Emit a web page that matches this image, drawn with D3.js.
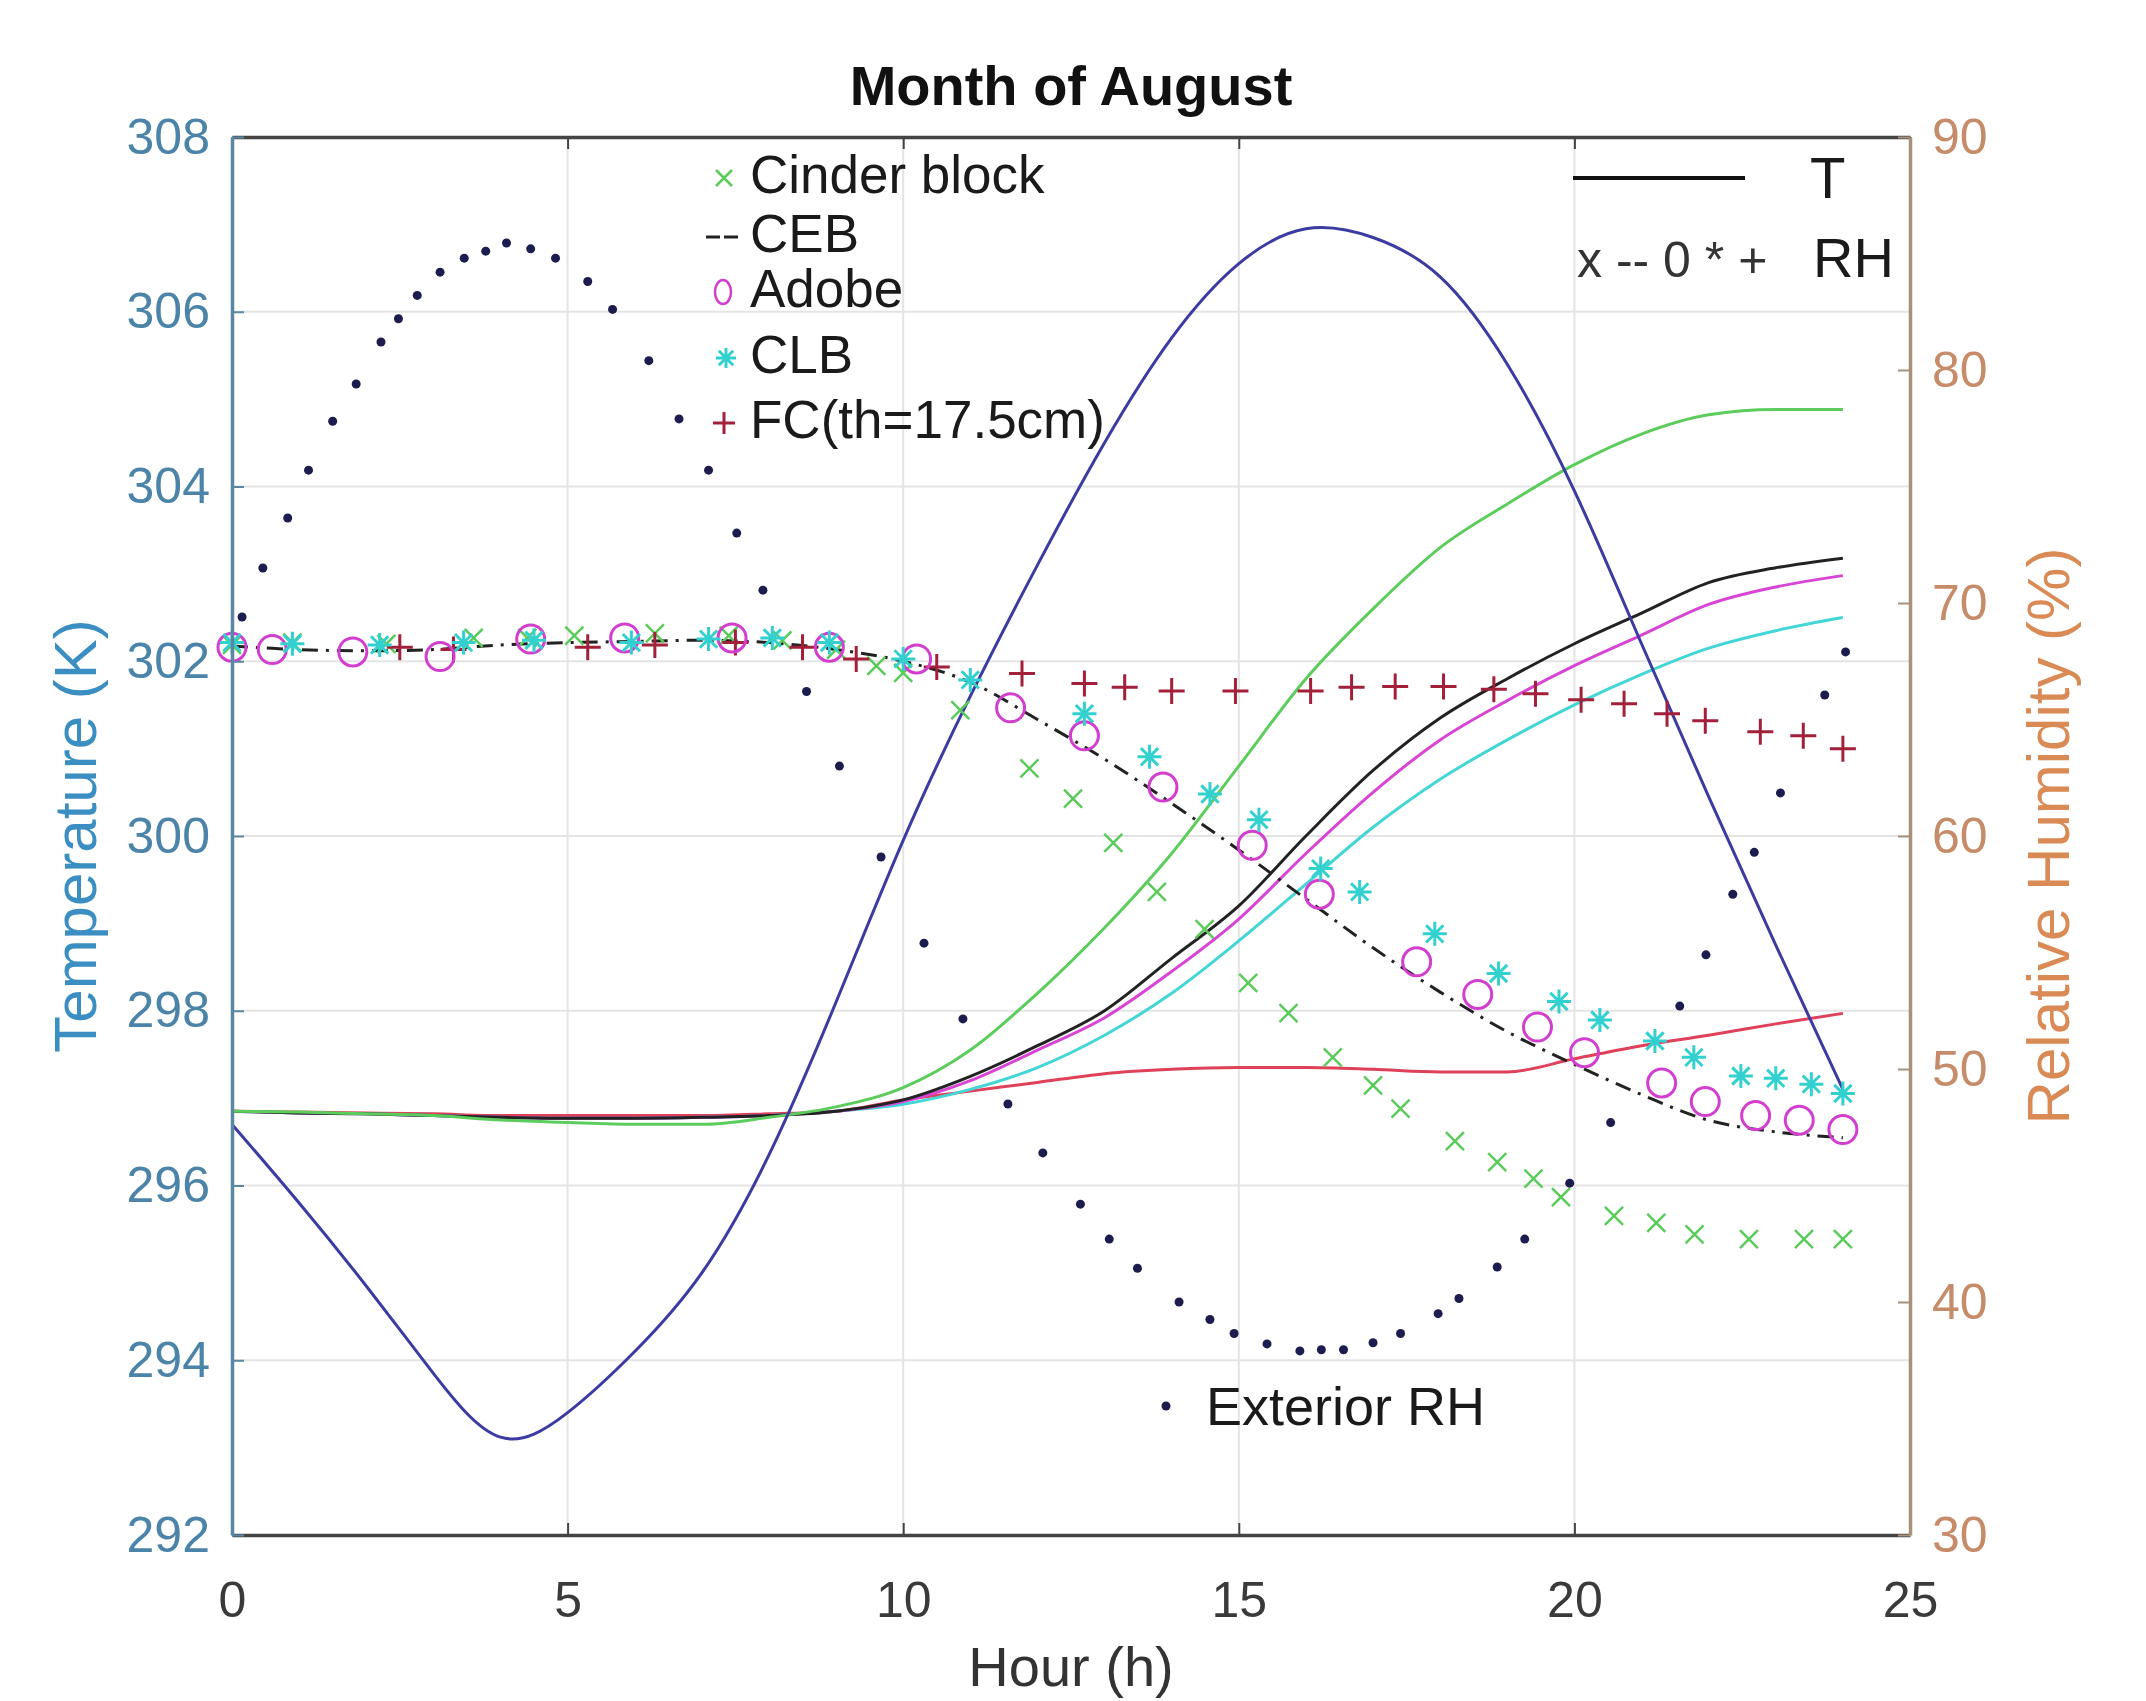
<!DOCTYPE html>
<html>
<head>
<meta charset="utf-8">
<script src="https://cdn.jsdelivr.net/npm/d3@7"></script>
<style>
  body { margin: 0; background: #fff; }
  svg text { font-family: "Liberation Sans", Arial, sans-serif; }
</style>
</head>
<body>
<svg id="chart" width="2146" height="1701"></svg>
<script>
// temperature curves, sampled every hour (K)
const hours = [0,1,2,3,4,5,6,7,8,9,10,11,12,13,14,15,16,17,18,19,20,21,22,23,24]
const tExterior = [296.7,295.8,294.85,293.85,293.12,293.4,294.1,295.0,296.35,298.1,299.95,301.6,303.1,304.5,305.7,306.55,306.95,306.85,306.4,305.4,303.95,302.2,300.45,298.75,297.1]
const tCinder = [296.85,296.84,296.82,296.8,296.75,296.72,296.7,296.7,296.78,296.9,297.12,297.55,298.2,298.95,299.8,300.8,301.8,302.6,303.3,303.8,304.25,304.6,304.82,304.88,304.88]
const tCEB = [296.85,296.83,296.82,296.8,296.78,296.77,296.77,296.78,296.8,296.85,296.98,297.25,297.6,298.0,298.6,299.2,300.0,300.75,301.35,301.8,302.2,302.55,302.9,303.07,303.18]
const tAdobe = [296.85,296.83,296.82,296.8,296.78,296.77,296.77,296.78,296.8,296.85,296.96,297.2,297.55,297.92,298.45,299.05,299.8,300.5,301.1,301.55,301.95,302.3,302.65,302.85,302.98]
const tCLB = [296.85,296.83,296.82,296.8,296.78,296.77,296.77,296.78,296.8,296.85,296.93,297.1,297.35,297.72,298.2,298.8,299.45,300.1,300.65,301.1,301.5,301.85,302.15,302.35,302.5]
const tFC = [296.85,296.84,296.83,296.82,296.8,296.8,296.8,296.8,296.82,296.85,296.98,297.08,297.18,297.28,297.33,297.35,297.35,297.33,297.3,297.3,297.45,297.6,297.72,297.85,297.97]

// relative humidity (%), each series at its own output times
const cebRH = [68.15,68.0,67.95,68.0,68.2,68.3,68.35,68.4,68.3,68.0,67.5,66.6,65.0,63.3,61.4,59.4,57.3,55.2,53.3,51.6,50.2,48.9,47.8,47.3,47.05]

const cinderHours = [0,0.9,2.3,3.6,4.4,5.1,6.3,7.4,8.2,9.0,9.6,10.0,10.85,11.88,12.53,13.13,13.78,14.49,15.14,15.74,16.4,17.0,17.41,18.22,18.85,19.39,19.8,20.59,21.22,21.79,22.6,23.42,24.0]
const cinderRH = [68.2,68.3,68.25,68.5,68.5,68.6,68.7,68.6,68.4,68.0,67.3,67.0,65.4,62.9,61.6,59.7,57.6,56.0,53.7,52.4,50.5,49.3,48.3,46.9,46.0,45.3,44.5,43.7,43.4,42.9,42.7,42.7,42.7]

const adobeHours = [0,0.6,1.8,3.1,4.45,5.85,7.45,8.9,10.2,11.6,12.7,13.87,15.2,16.2,17.65,18.56,19.45,20.15,21.3,21.95,22.7,23.35,24.0]
const adobeRH = [68.1,68.0,67.9,67.7,68.45,68.5,68.5,68.1,67.6,65.5,64.3,62.1,59.6,57.5,54.6,53.2,51.8,50.7,49.4,48.6,48.0,47.8,47.4]

const clbHours = [0,0.9,2.2,3.45,4.5,5.95,7.1,8.05,8.9,10.0,11.0,12.7,13.67,14.57,15.3,16.22,16.8,17.92,18.87,19.77,20.38,21.2,21.78,22.48,23.0,23.53,24.0]
const clbRH = [68.3,68.25,68.2,68.3,68.4,68.3,68.45,68.5,68.3,67.6,66.7,65.25,63.4,61.8,60.7,58.6,57.6,55.8,54.1,52.9,52.1,51.2,50.5,49.7,49.6,49.35,48.95]

const fcHours = [2.5,3.3,5.3,6.3,7.5,8.5,9.3,10.5,11.77,12.7,13.3,14.0,14.95,16.07,16.68,17.33,18.05,18.8,19.42,20.1,20.74,21.38,21.95,22.77,23.41,24.0]
const fcRH = [68.1,68.0,68.1,68.2,68.3,68.1,67.6,67.25,66.97,66.55,66.38,66.22,66.22,66.22,66.38,66.42,66.42,66.3,66.1,65.85,65.68,65.25,64.95,64.47,64.3,63.75]

const extHours = [0.15,0.46,0.83,1.14,1.5,1.85,2.22,2.48,2.76,3.1,3.46,3.78,4.09,4.45,4.82,5.3,5.67,6.21,6.66,7.1,7.52,7.91,8.56,9.05,9.67,10.31,10.89,11.56,12.08,12.64,13.07,13.49,14.11,14.57,14.93,15.42,15.91,16.23,16.56,17.0,17.41,17.97,18.28,18.85,19.26,19.93,20.54,21.57,21.96,22.36,22.68,23.07,23.73,24.04]
const extRH = [69.4,71.5,73.65,75.7,77.8,79.4,81.2,82.2,83.2,84.2,84.8,85.1,85.45,85.2,84.8,83.8,82.6,80.4,77.9,75.7,73.0,70.55,66.2,63.0,59.1,55.4,52.15,48.5,46.4,44.2,42.7,41.45,40.0,39.25,38.65,38.2,37.9,37.95,37.95,38.25,38.65,39.5,40.15,41.5,42.7,45.1,47.7,52.7,54.9,57.5,59.3,61.85,66.05,67.9]

// axis ticks
const hourTicks = [0,5,10,15,20,25]
const tempTicks = [292,294,296,298,300,302,304,306,308]
const rhTicks = [30,40,50,60,70,80,90]

const svg = d3.select("#chart")
const plotLeft = 232, plotRight = 1910, plotTop = 137, plotBottom = 1535

const x = d3.scaleLinear().domain([0, 25]).range([plotLeft, plotRight])
const yT = d3.scaleLinear().domain([292, 308]).range([plotBottom, plotTop])
const yRH = d3.scaleLinear().domain([30, 90]).range([plotBottom, plotTop])

svg.append("rect").attr("width", 2146).attr("height", 1701).attr("fill", "#fff")

// grid
const grid = svg.append("g").attr("stroke", "#e4e4e4").attr("stroke-width", 2)
hourTicks.slice(1, -1).forEach(h => {
  grid.append("line").attr("x1", x(h)).attr("x2", x(h)).attr("y1", plotTop).attr("y2", plotBottom)
})
tempTicks.slice(1, -1).forEach(t => {
  grid.append("line").attr("x1", plotLeft).attr("x2", plotRight).attr("y1", yT(t)).attr("y2", yT(t))
})

// temperature lines
const tLine = d3.line().x((d, i) => x(hours[i])).y(d => yT(d)).curve(d3.curveMonotoneX)
const tSeries = [
  {vals: tFC, color: "#e0415a"},
  {vals: tCLB, color: "#44d6d6"},
  {vals: tAdobe, color: "#d844d4"},
  {vals: tCEB, color: "#222222"},
  {vals: tCinder, color: "#5ccd5c"}
]
tSeries.forEach(s => {
  svg.append("path").datum(s.vals).attr("d", tLine)
    .attr("fill", "none").attr("stroke", s.color).attr("stroke-width", 3)
})
const extLine = d3.line().x((d, i) => x(hours[i])).y(d => yT(d)).curve(d3.curveNatural)
svg.append("path").datum(tExterior).attr("d", extLine)
  .attr("fill", "none").attr("stroke", "#3b3ba2").attr("stroke-width", 3)

// CEB relative humidity, dash-dot
const rhLine = d3.line().x((d, i) => x(hours[i])).y(d => yRH(d)).curve(d3.curveCatmullRom)
svg.append("path").datum(cebRH).attr("d", rhLine)
  .attr("fill", "none").attr("stroke", "#222").attr("stroke-width", 3)
  .attr("stroke-dasharray", "16,8,3,8")

// marker helpers
const drawX = (g, cx, cy, s, color) => {
  g.append("path").attr("d", `M${cx-s},${cy-s}L${cx+s},${cy+s}M${cx-s},${cy+s}L${cx+s},${cy-s}`)
    .attr("stroke", color).attr("stroke-width", 2.5).attr("fill", "none")
}
const drawPlus = (g, cx, cy, s, color) => {
  g.append("path").attr("d", `M${cx-s},${cy}L${cx+s},${cy}M${cx},${cy-s}L${cx},${cy+s}`)
    .attr("stroke", color).attr("stroke-width", 3).attr("fill", "none")
}
const drawStar = (g, cx, cy, s, color) => {
  const d = s * 0.72
  g.append("path").attr("d", `M${cx-s},${cy}L${cx+s},${cy}M${cx},${cy-s}L${cx},${cy+s}M${cx-d},${cy-d}L${cx+d},${cy+d}M${cx-d},${cy+d}L${cx+d},${cy-d}`)
    .attr("stroke", color).attr("stroke-width", 3).attr("fill", "none")
}
const drawCircle = (g, cx, cy, r, color) => {
  g.append("circle").attr("cx", cx).attr("cy", cy).attr("r", r)
    .attr("stroke", color).attr("stroke-width", 3).attr("fill", "none")
}

const marks = svg.append("g")
cinderHours.forEach((h, i) => drawX(marks, x(h), yRH(cinderRH[i]), 9, "#5acb5a"))
fcHours.forEach((h, i) => drawPlus(marks, x(h), yRH(fcRH[i]), 13, "#a3203a"))
adobeHours.forEach((h, i) => drawCircle(marks, x(h), yRH(adobeRH[i]), 14, "#d23fce"))
clbHours.forEach((h, i) => drawStar(marks, x(h), yRH(clbRH[i]), 12, "#33d0d0"))
extHours.forEach((h, i) => {
  marks.append("circle").attr("cx", x(h)).attr("cy", yRH(extRH[i])).attr("r", 4.5).attr("fill", "#1c1c4e")
})

// axes
const styleAxis = (g, color, labelColor, size) => {
  g.select(".domain").attr("stroke", color).attr("stroke-width", 3.5)
  g.selectAll(".tick line").attr("stroke", color).attr("stroke-width", 2)
  g.selectAll(".tick text").attr("fill", labelColor).attr("font-size", size)
    .attr("font-family", "Liberation Sans, Arial, sans-serif")
}

const gBottom = svg.append("g").attr("transform", `translate(0,${plotBottom})`)
  .call(d3.axisBottom(x).tickValues(hourTicks).tickSize(-12).tickSizeOuter(0).tickPadding(46))
styleAxis(gBottom, "#444", "#3a3a3a", 50)

const gTop = svg.append("g").attr("transform", `translate(0,${plotTop})`)
  .call(d3.axisTop(x).tickValues(hourTicks).tickSize(-12).tickSizeOuter(0).tickFormat(""))
styleAxis(gTop, "#444", "#3a3a3a", 50)

const gLeft = svg.append("g").attr("transform", `translate(${plotLeft},0)`)
  .call(d3.axisLeft(yT).tickValues(tempTicks).tickSize(-12).tickSizeOuter(0).tickPadding(22))
styleAxis(gLeft, "#5a88a4", "#4b84a8", 50)

const gRight = svg.append("g").attr("transform", `translate(${plotRight},0)`)
  .call(d3.axisRight(yRH).tickValues(rhTicks).tickSize(-12).tickSizeOuter(0).tickPadding(22))
styleAxis(gRight, "#a89178", "#c68b68", 50)

// titles
svg.append("text").attr("x", (plotLeft + plotRight) / 2).attr("y", 105)
  .attr("text-anchor", "middle").attr("font-size", 56).attr("font-weight", "bold")
  .attr("fill", "#111").text("Month of August")

svg.append("text").attr("x", (plotLeft + plotRight) / 2).attr("y", 1686)
  .attr("text-anchor", "middle").attr("font-size", 56).attr("fill", "#333").text("Hour (h)")

svg.append("text").attr("transform", `translate(96,${(plotTop + plotBottom) / 2}) rotate(-90)`)
  .attr("text-anchor", "middle").attr("font-size", 60).attr("fill", "#3b8ec2").text("Temperature (K)")

svg.append("text").attr("transform", `translate(2069,${(plotTop + plotBottom) / 2}) rotate(-90)`)
  .attr("text-anchor", "middle").attr("font-size", 60).attr("fill", "#d98a55").text("Relative Humidity (%)")

// material legend
const legendRows = [
  {label: "Cinder block", y: 193, mark: "x"},
  {label: "CEB", y: 252, mark: "dash"},
  {label: "Adobe", y: 307, mark: "o"},
  {label: "CLB", y: 373, mark: "*"},
  {label: "FC(th=17.5cm)", y: 438, mark: "+"}
]
const leg = svg.append("g")
legendRows.forEach(r => {
  const cy = r.y - 15
  if (r.mark === "x") drawX(leg, 724, cy, 8, "#5acb5a")
  if (r.mark === "dash") leg.append("line").attr("x1", 706).attr("x2", 738).attr("y1", cy).attr("y2", cy)
    .attr("stroke", "#222").attr("stroke-width", 3).attr("stroke-dasharray", "14,4")
  if (r.mark === "o") leg.append("ellipse").attr("cx", 723).attr("cy", cy).attr("rx", 8).attr("ry", 12)
    .attr("fill", "none").attr("stroke", "#d23fce").attr("stroke-width", 2.5)
  if (r.mark === "*") drawStar(leg, 726, cy, 10, "#33d0d0")
  if (r.mark === "+") drawPlus(leg, 724, cy, 11, "#a3203a")
  leg.append("text").attr("x", 750).attr("y", r.y).attr("font-size", 53).attr("fill", "#1a1a1a").text(r.label)
})

// line/marker legend
svg.append("line").attr("x1", 1573).attr("x2", 1745).attr("y1", 178).attr("y2", 178)
  .attr("stroke", "#111").attr("stroke-width", 4)
svg.append("text").attr("x", 1810).attr("y", 198).attr("font-size", 58).attr("fill", "#1a1a1a").text("T")
svg.append("text").attr("x", 1577).attr("y", 277).attr("font-size", 50).attr("fill", "#333").text("x -- 0 * +")
svg.append("text").attr("x", 1813).attr("y", 277).attr("font-size", 56).attr("fill", "#1a1a1a").text("RH")

// exterior RH legend
svg.append("circle").attr("cx", 1166).attr("cy", 1406).attr("r", 4.5).attr("fill", "#1c1c4e")
svg.append("text").attr("x", 1206).attr("y", 1425).attr("font-size", 54).attr("fill", "#1a1a1a").text("Exterior RH")
</script>
</body>
</html>
